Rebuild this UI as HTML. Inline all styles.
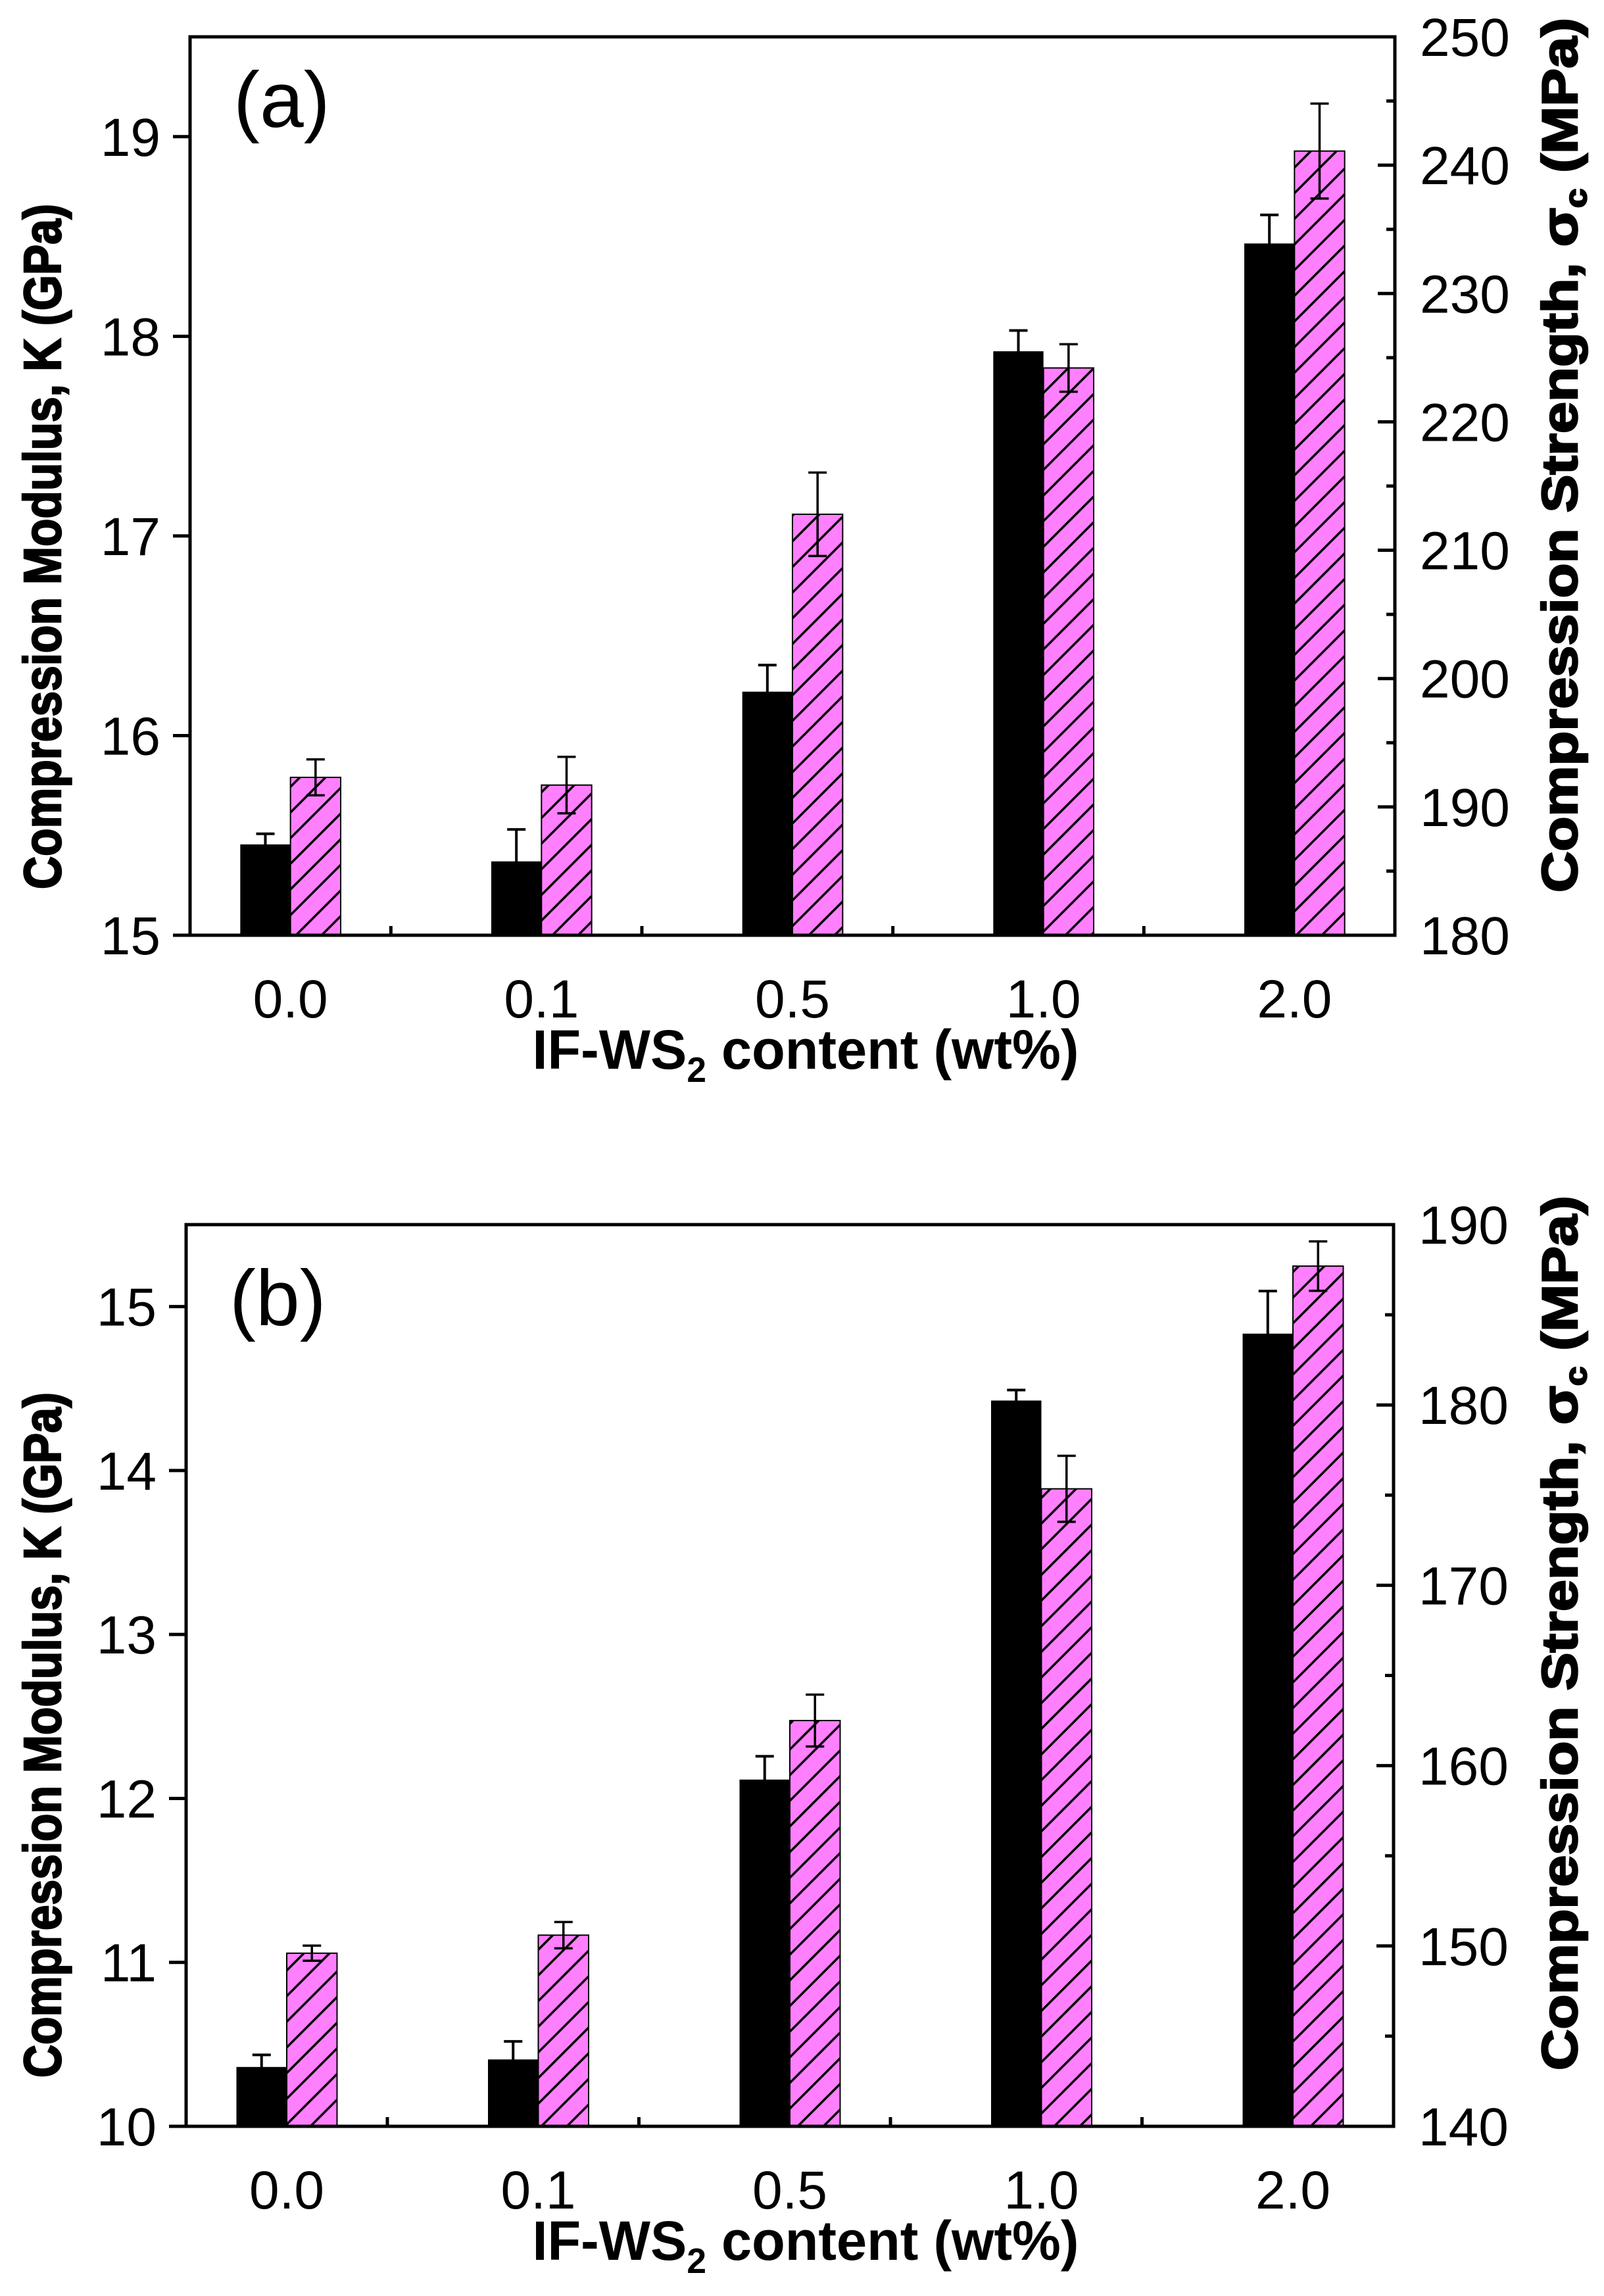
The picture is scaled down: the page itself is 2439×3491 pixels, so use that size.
<!DOCTYPE html>
<html><head><meta charset="utf-8"><style>
html,body{margin:0;padding:0;background:#fff}
svg{display:block}
text{font-family:"Liberation Sans",Arial,sans-serif;fill:#000}
</style></head><body>
<svg id="chart" width="2439" height="3491" viewBox="0 0 2439 3491" xmlns="http://www.w3.org/2000/svg">
<defs>
<pattern id="hatch" patternUnits="userSpaceOnUse" width="39" height="39">
<rect width="39" height="39" fill="#ff80ff"/>
<path d="M-5,44 L44,-5 M-5,5 L5,-5 M34,44 L44,34" stroke="#000" stroke-width="3.5"/>
</pattern>
</defs>
</svg>
<script>
const categories = ["0.0","0.1","0.5","1.0","2.0"];
// Panel (a)
const aModulus = [15.455, 15.37, 16.22, 17.925, 18.465];
const aModulusErr = [0.053, 0.16, 0.133, 0.104, 0.143];
const aStrength = [192.3, 191.7, 212.8, 224.2, 241.1];
const aStrengthErr = [1.4, 2.2, 3.25, 1.85, 3.7];
const aLeftTicks = [15,16,17,18,19];
const aRightTicks = [180,190,200,210,220,230,240,250];
// Panel (b)
const bModulus = [10.362, 10.408, 12.115, 14.427, 14.835];
const bModulusErr = [0.074, 0.11, 0.142, 0.064, 0.26];
const bStrength = [149.6, 150.6, 162.5, 175.35, 187.7];
const bStrengthErr = [0.42, 0.73, 1.44, 1.83, 1.37];
const bLeftTicks = [10,11,12,13,14,15];
const bRightTicks = [140,150,160,170,180,190];

const NS = "http://www.w3.org/2000/svg";
const svg = document.getElementById("chart");
function mk(tag, attrs, parent){
  const e = document.createElementNS(NS, tag);
  for (const k in attrs) e.setAttribute(k, attrs[k]);
  (parent||svg).appendChild(e);
  return e;
}

function panel(cfg){
  const g = mk("g", {});
  
  
  const {x0,x1,y0,y1,lmin,lmax,rmin,rmax} = cfg;
  const xs = v => x0 + (v + 0.4) / 4.8 * (x1 - x0);
  const yl = v => y1 - (v - lmin) / (lmax - lmin) * (y1 - y0);
  const yr = v => y1 - (v - rmin) / (rmax - rmin) * (y1 - y0);
  const bw = 0.2 / 4.8 * (x1 - x0);

  categories.forEach((c, i) => {
    const cx = xs(i);
    const bt = yl(cfg.mod[i]);
    const b = mk("rect", {x: cx - bw, y: bt, width: bw, height: y1 - bt, fill: "#000"}, g);
    
    
    const pt = yr(cfg.str[i]);
    const p = mk("rect", {x: cx, y: pt, width: bw, height: y1 - pt, fill: "url(#hatch)", stroke: "#000", "stroke-width": 2}, g);
    
    
    const ex1 = cx - bw / 2;
    const e1 = mk("path", {d: `M${ex1},${yl(cfg.mod[i]-cfg.modErr[i])}V${yl(cfg.mod[i]+cfg.modErr[i])}M${ex1-14},${yl(cfg.mod[i]+cfg.modErr[i])}h28M${ex1-14},${yl(cfg.mod[i]-cfg.modErr[i])}h28`, stroke: "#000", "stroke-width": 4, fill: "none"}, g);
    
    
    const ex2 = cx + bw / 2;
    const e2 = mk("path", {d: `M${ex2},${yr(cfg.str[i]-cfg.strErr[i])}V${yr(cfg.str[i]+cfg.strErr[i])}M${ex2-14},${yr(cfg.str[i]+cfg.strErr[i])}h28M${ex2-14},${yr(cfg.str[i]-cfg.strErr[i])}h28`, stroke: "#000", "stroke-width": 3.5, fill: "none"}, g);
    
    
    const t = mk("text", {x: cx, y: y1 + 125, "font-size": 82, "text-anchor": "middle"}, g);
    t.textContent = c;
    
    
    if (i < 4) mk("line", {x1: xs(i + 0.4), x2: xs(i + 0.4), y1: y1, y2: y1 - 14, stroke: "#000", "stroke-width": 5}, g);
  });

  const fr = mk("rect", {x: x0, y: y0, width: x1 - x0, height: y1 - y0, fill: "none", stroke: "#000", "stroke-width": 5}, g);
  
  

  cfg.lt.forEach(v => {
    mk("line", {x1: x0 - 26, x2: x0, y1: yl(v), y2: yl(v), stroke: "#000", "stroke-width": 5}, g);
    const t = mk("text", {x: x0 - 45, y: yl(v) + 29, "font-size": 82, "text-anchor": "end"}, g);
    t.textContent = v;
    
    
  });
  cfg.rt.forEach((v, k) => {
    mk("line", {x1: x1 - 26, x2: x1, y1: yr(v), y2: yr(v), stroke: "#000", "stroke-width": 5}, g);
    if (k < cfg.rt.length - 1) mk("line", {x1: x1 - 13, x2: x1, y1: yr(v + 5), y2: yr(v + 5), stroke: "#000", "stroke-width": 5}, g);
    const t = mk("text", {x: x1 + 38, y: yr(v) + 29, "font-size": 82}, g);
    t.textContent = v;
    
    
  });

  const pl = mk("text", {x: x0 + 66, y: cfg.labelY, "font-size": 120}, g);
  pl.textContent = cfg.label;
  
  

  const lt = mk("text", {transform: `translate(92,${cfg.ltc}) rotate(-90)`, "font-size": 80, "font-weight": "bold", stroke: "#000", "stroke-width": 2.5, "text-anchor": "middle", textLength: 1042, lengthAdjust: "spacingAndGlyphs"}, g);
  lt.textContent = "Compression Modulus, K (GPa)";
  
  

  const rt = mk("text", {transform: `translate(2398,${cfg.rtc}) rotate(-90)`, "font-size": 76, "font-weight": "bold", stroke: "#000", "stroke-width": 2.5, "text-anchor": "middle", textLength: 1330, lengthAdjust: "spacingAndGlyphs"}, g);
  rt.innerHTML = 'Compression Strength, σ<tspan font-size="46" dy="14">c</tspan><tspan dy="-14"> (MPa)</tspan>';
  
  

  const xt = mk("text", {x: 1225, y: y1 + 203, "font-size": 84, "font-weight": "bold", "text-anchor": "middle", textLength: 831, lengthAdjust: "spacingAndGlyphs"}, g);
  xt.innerHTML = 'IF-WS<tspan font-size="54" dy="20">2</tspan><tspan dy="-20"> content (wt%)</tspan>';
  
  
}

panel({name: "panel-a", x0: 289, x1: 2121, y0: 56, y1: 1422, lmin: 15, lmax: 19.5, rmin: 180, rmax: 250,
  mod: aModulus, modErr: aModulusErr, str: aStrength, strErr: aStrengthErr, lt: aLeftTicks, rt: aRightTicks,
  label: "(a)", labelY: 193, ltc: 831, rtc: 692});
panel({name: "panel-b", x0: 283, x1: 2119, y0: 1862, y1: 3233, lmin: 10, lmax: 15.5, rmin: 140, rmax: 190,
  mod: bModulus, modErr: bModulusErr, str: bStrength, strErr: bStrengthErr, lt: bLeftTicks, rt: bRightTicks,
  label: "(b)", labelY: 2015, ltc: 2638, rtc: 2483});
</script>
</body></html>
